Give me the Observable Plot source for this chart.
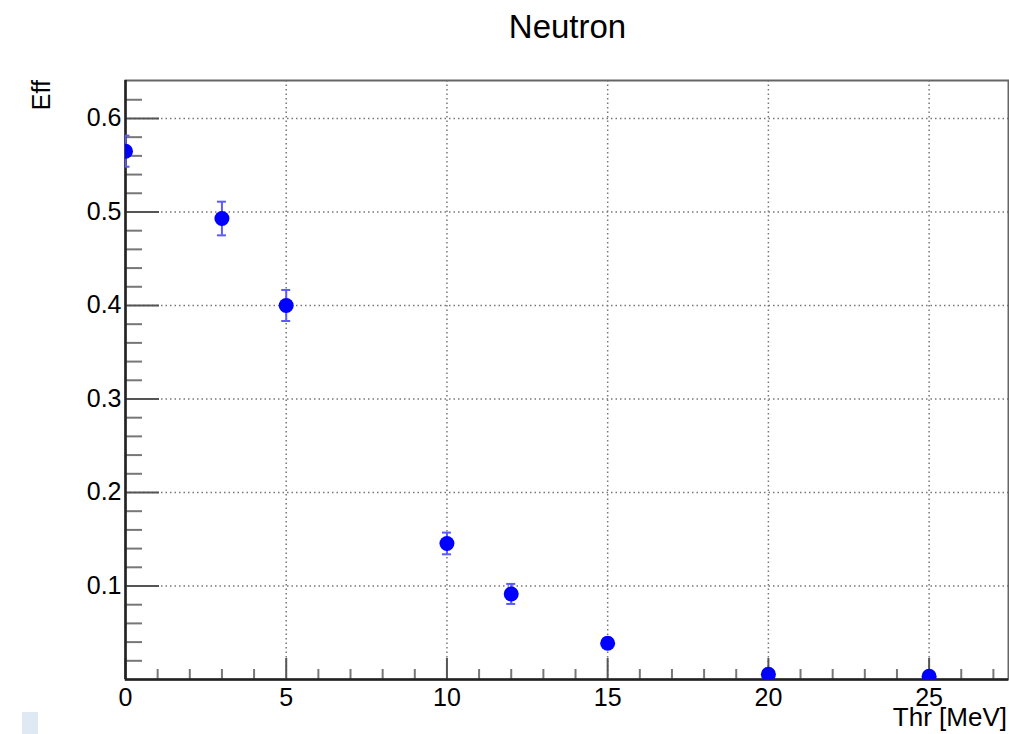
<!DOCTYPE html>
<html>
<head>
<meta charset="utf-8">
<script src="https://cdn.jsdelivr.net/npm/d3@7"></script>
<script src="https://cdn.jsdelivr.net/npm/@observablehq/plot@0.6"></script>
<style>
  html, body { margin: 0; padding: 0; background: #fff; }
  #wrap { position: relative; width: 1009px; height: 734px; font-family: "Liberation Sans", Arial, sans-serif; overflow: hidden; }
  #wrap svg { position: absolute; left: 0; top: 0; }
  .lbl { position: absolute; color: #000; white-space: nowrap; line-height: 1; }
</style>
</head>
<body>
<div id="wrap">
  <div class="lbl" id="title" style="left:0; width:1009px; top:10px; text-align:center; padding-left:126px; box-sizing:border-box; font-size:33px;">Neutron</div>
  <div class="lbl" id="ylab" style="font-size:25px; left:29px; top:80px; transform-origin: 0 0; transform: rotate(-90deg) translate(-100%, 0);">Eff</div>
  <div class="lbl" id="xlab" style="font-size:26px; right:2px; top:704px;">Thr [MeV]</div>
  <div style="position:absolute; left:22px; top:712px; width:16px; height:22px; background:#dfe9f3;"></div>
</div>
<script>
const thr = [0, 3, 5, 10, 12, 15, 20, 25];
const eff = [0.565, 0.493, 0.400, 0.1455, 0.0915, 0.0388, 0.0055, 0.0035];
const err = [0.0166, 0.018, 0.0166, 0.0116, 0.0107, 0.005, 0.002, 0.001];
const xTicks = [0, 5, 10, 15, 20, 25];
const yTicks = [0.1, 0.2, 0.3, 0.4, 0.5, 0.6];
const xMinor = d3.range(0, 27.5, 1).filter(v => v % 5 !== 0);
const yMinor = d3.range(0.02, 0.64, 0.02).map(v => +v.toFixed(2)).filter(v => Math.round(v * 100) % 10 !== 0);

const data = thr.map((t, i) => ({x: t, y: eff[i], lo: eff[i] - err[i], hi: eff[i] + err[i]}));

const xMax = 27.47, yMax = 0.6406;
const pxX = 883 / xMax;   // px per x-unit
const pxY = 599 / yMax;   // px per y-unit
const capHalf = 4.5 / pxX;

const chart = Plot.plot({
  width: 1009,
  height: 734,
  marginLeft: 125,
  marginRight: 1,
  marginTop: 80,
  marginBottom: 55,
  style: {fontFamily: "Liberation Sans, Arial, sans-serif", color: "#000", background: "transparent"},
  x: {domain: [0, xMax]},
  y: {domain: [0, yMax]},
  marks: [
    // dotted grid
    Plot.gridX(xTicks.filter(d => d > 0), {stroke: "#777", strokeOpacity: 1, strokeWidth: 1.5, strokeDasharray: "1.5,3"}),
    Plot.gridY(yTicks, {stroke: "#777", strokeOpacity: 1, strokeWidth: 1.5, strokeDasharray: "1.5,3"}),
    // inward ticks
    Plot.ruleY(yTicks, {x1: 0, x2: 34 / pxX, stroke: "#555", strokeWidth: 2}),
    Plot.ruleY(yMinor, {x1: 0, x2: 17 / pxX, stroke: "#777", strokeWidth: 2}),
    Plot.ruleX(xTicks, {y1: 0, y2: 21 / pxY, stroke: "#555", strokeWidth: 2}),
    Plot.ruleX(xMinor, {y1: 0, y2: 10 / pxY, stroke: "#777", strokeWidth: 2}),
    // frame
    Plot.frame({stroke: "#666", strokeWidth: 2}),
    Plot.ruleX([0], {stroke: "#222", strokeWidth: 2.5}),
    Plot.ruleY([0], {stroke: "#222", strokeWidth: 2.5}),
    // error bars
    Plot.ruleX(data, {x: "x", y1: "lo", y2: "hi", stroke: "#5a5aff", strokeWidth: 2, clip: true}),
    Plot.ruleY(data, {y: "lo", x1: d => d.x - capHalf, x2: d => d.x + capHalf, stroke: "#5a5aff", strokeWidth: 2, clip: true}),
    Plot.ruleY(data, {y: "hi", x1: d => d.x - capHalf, x2: d => d.x + capHalf, stroke: "#5a5aff", strokeWidth: 2, clip: true}),
    // points
    Plot.dot(data, {x: "x", y: "y", r: 7.5, fill: "#0000ff", stroke: "none", clip: true}),
    // tick labels
    Plot.axisX(xTicks, {tickSize: 0, tickPadding: 9, fontSize: 25, label: null}),
    Plot.axisY(yTicks, {tickSize: 0, tickPadding: 4, fontSize: 25, label: null, tickFormat: d => String(d)})
  ]
});
document.getElementById("wrap").prepend(chart);
</script>
</body>
</html>
